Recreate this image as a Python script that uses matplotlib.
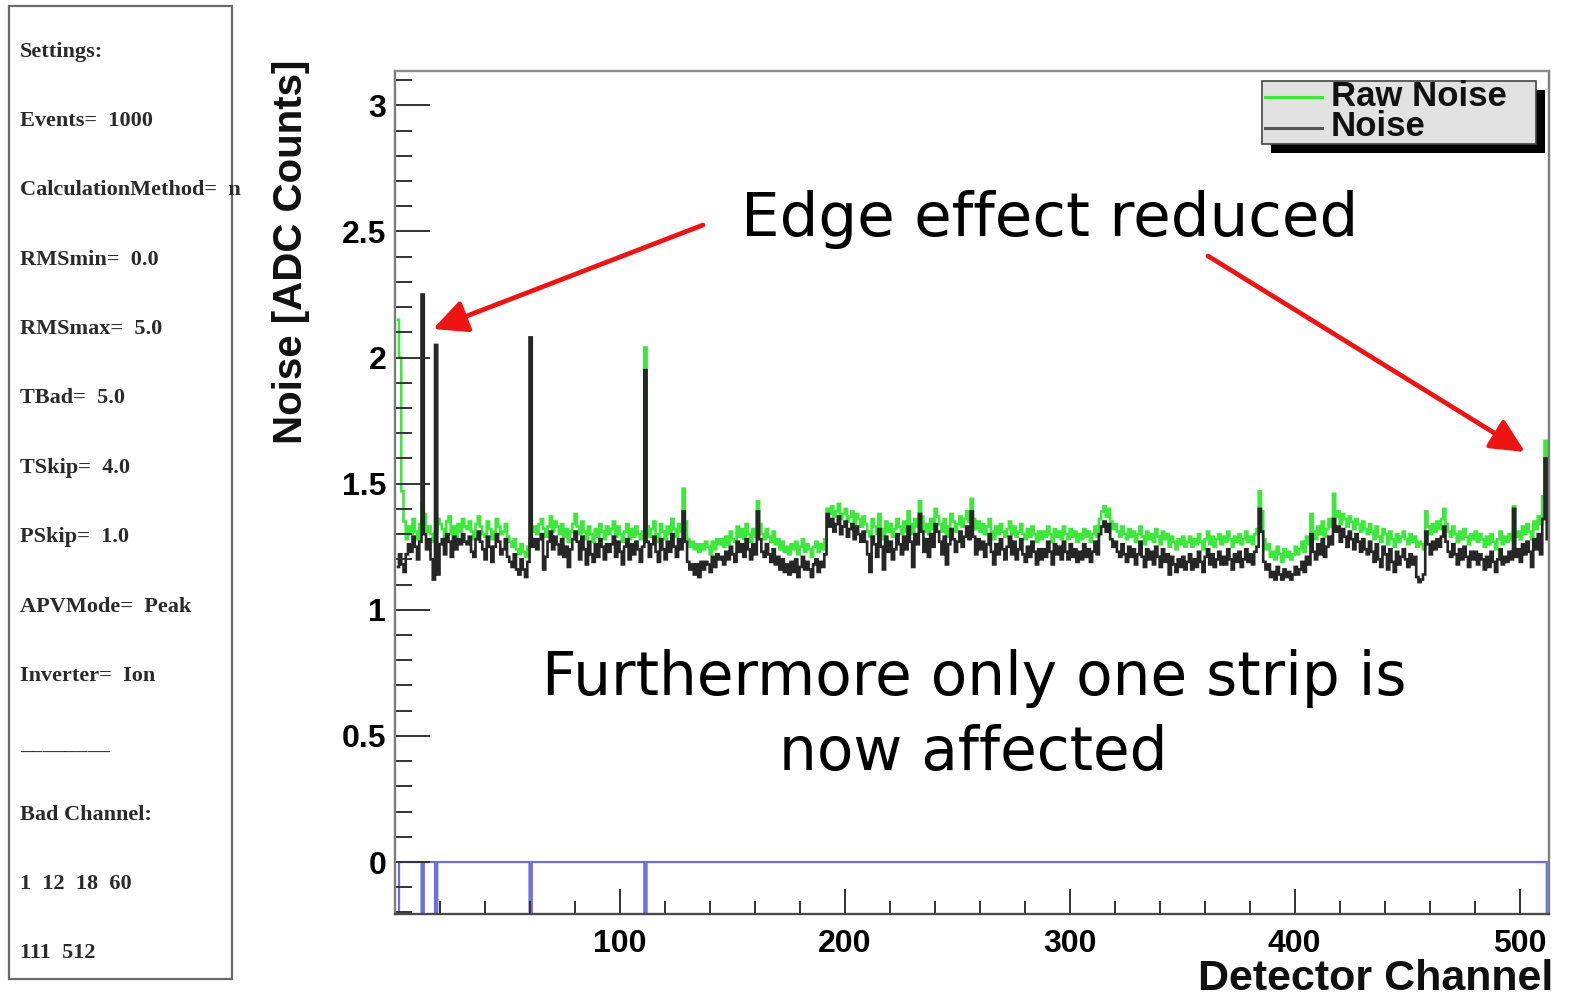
import numpy as np
import matplotlib
matplotlib.use("Agg")
import matplotlib.pyplot as plt
from matplotlib.patches import Rectangle, FancyArrowPatch
from matplotlib.lines import Line2D
from matplotlib.ticker import MultipleLocator

# ---------------- data (values in 1/100 ADC counts, channels 1..512) ----------------
raw_noise_c = [
    215, 200, 147, 135, 128, 133, 130, 136, 131, 128, 134, 142, 138, 131, 133, 130,
    127, 131, 136, 134, 132, 128, 135, 137, 130, 133, 129, 134, 131, 136, 133, 132,
    135, 131, 128, 134, 137, 133, 130, 129, 135, 132, 128, 131, 136, 133, 130, 131,
    134, 129, 127, 125, 128, 124, 122, 126, 123, 121, 125, 128, 131, 133, 130, 134,
    136, 132, 129, 133, 137, 131, 135, 133, 130, 134, 129, 132, 127, 131, 134, 138,
    133, 130, 135, 131, 128, 133, 130, 127, 132, 129, 134, 131, 128, 133, 130, 132,
    135, 129, 133, 130, 127, 131, 134, 128, 132, 129, 133, 130, 128, 131, 204, 133,
    129, 132, 135, 130, 127, 134, 131, 128, 133, 130, 136, 132, 129, 134, 131, 148,
    135, 128, 125, 127, 124, 126, 123, 126, 124, 127, 125, 122, 127, 124, 128, 126,
    128, 125, 129, 126, 131, 128, 127, 133, 129, 132, 128, 134, 130, 127, 132, 129,
    143, 134, 130, 128, 132, 129, 127, 131, 126, 128, 124, 127, 123, 125, 122, 126,
    124, 127, 122, 125, 128, 123, 126, 124, 121, 125, 127, 123, 126, 124, 128, 140,
    138, 141, 137, 139, 142, 136, 138, 140, 135, 137, 139, 134, 138, 136, 133, 137,
    134, 131, 129, 136, 133, 130, 138, 132, 128, 135, 131, 134, 129, 132, 136, 133,
    130, 135, 131, 139, 134, 130, 136, 133, 143, 137, 131, 134, 130, 136, 132, 140,
    137, 134, 131, 136, 129, 133, 138, 135, 131, 134, 137, 133, 136, 139, 135, 144,
    136, 132, 135, 131, 134, 130, 133, 136, 131, 128, 133, 130, 134, 131, 129, 132,
    135, 130, 133, 129, 131, 134, 130, 128, 132, 129, 133, 130, 127, 131, 128, 131,
    129, 133, 130, 127, 132, 129, 131, 128, 133, 130, 128, 132, 129, 131, 127, 130,
    128, 132, 129, 131, 127, 130, 133, 129, 136, 139, 141, 137, 140, 135, 132, 134,
    131, 129, 133, 130, 128, 132, 129, 131, 127, 130, 133, 129, 126, 131, 128, 130,
    127, 132, 129, 126, 131, 128, 130, 125, 129, 127, 124, 128, 126, 129, 125, 127,
    129, 125, 128, 126, 130, 127, 124, 128, 131, 126, 129, 125, 128, 130, 126, 129,
    127, 131, 128, 125, 129, 127, 130, 126, 128, 131, 127, 129, 126, 130, 132, 147,
    139, 128, 124, 126, 121, 123, 120, 125, 122, 119, 124, 121, 123, 120, 122, 125,
    122, 124, 127, 123, 129, 126, 138, 131, 128, 133, 130, 135, 129, 132, 136, 133,
    146, 137, 139, 134, 138, 136, 133, 137, 135, 132, 136, 134, 131, 135, 132, 130,
    134, 131, 128, 133, 129, 127, 132, 130, 126, 131, 128, 125, 130, 127, 129, 131,
    128, 126, 130, 127, 129, 125, 127, 126, 124, 139, 133, 130, 134, 131, 135, 132,
    136, 140, 134, 131, 129, 133, 130, 127, 131, 128, 132, 129, 126, 130, 128, 131,
    127, 130, 128, 125, 129, 126, 130, 127, 124, 128, 131, 126, 129, 127, 130, 128,
    141, 129, 131, 128, 133, 130, 134, 131, 128, 135, 132, 137, 134, 145, 167, 140,
]

noise_c = [
    117, 122, 118, 115, 122, 126, 123, 129, 125, 120, 127, 225, 130, 124, 128, 120,
    112, 205, 114, 126, 128, 122, 130, 127, 121, 129, 124, 128, 126, 130, 127, 126,
    129, 123, 121, 128, 131, 127, 124, 120, 129, 125, 119, 125, 130, 127, 122, 124,
    128, 121, 119, 117, 122, 116, 114, 120, 116, 113, 119, 208, 125, 128, 124, 128,
    130, 116, 121, 127, 131, 124, 129, 126, 122, 128, 121, 125, 117, 124, 128, 131,
    127, 120, 129, 124, 118, 127, 122, 119, 126, 121, 128, 125, 120, 126, 123, 126,
    129, 121, 127, 123, 118, 125, 128, 120, 126, 122, 127, 124, 119, 125, 195, 127,
    121, 126, 129, 123, 119, 128, 124, 120, 127, 123, 130, 125, 121, 128, 124, 139,
    127, 119, 116, 118, 114, 118, 113, 119, 116, 119, 118, 115, 121, 117, 122, 120,
    121, 118, 123, 120, 125, 122, 119, 127, 123, 126, 121, 128, 124, 120, 126, 122,
    139, 128, 123, 121, 126, 122, 119, 124, 118, 121, 116, 120, 115, 118, 114, 119,
    115, 120, 113, 117, 121, 116, 119, 116, 113, 118, 120, 115, 119, 117, 122, 138,
    133, 136, 131, 134, 137, 130, 133, 135, 129, 132, 134, 128, 133, 130, 127, 131,
    127, 122, 115, 129, 126, 121, 132, 125, 116, 129, 123, 127, 120, 124, 130, 126,
    122, 129, 124, 133, 127, 117, 130, 126, 138, 131, 123, 128, 121, 130, 125, 134,
    131, 127, 122, 129, 118, 126, 132, 128, 123, 127, 131, 125, 129, 133, 128, 139,
    129, 122, 128, 124, 127, 121, 126, 130, 123, 118, 126, 122, 128, 124, 120, 125,
    129, 122, 127, 120, 124, 128, 122, 119, 125, 121, 127, 123, 118, 124, 120, 124,
    121, 127, 123, 118, 126, 122, 125, 120, 127, 123, 120, 126, 121, 124, 119, 123,
    120, 126, 121, 124, 119, 123, 127, 122, 130, 133, 135, 131, 134, 128, 125, 127,
    123, 121, 126, 122, 119, 125, 121, 124, 118, 122, 127, 121, 117, 124, 120, 123,
    118, 125, 121, 117, 124, 119, 122, 114, 121, 118, 115, 120, 117, 121, 116, 119,
    122, 116, 120, 117, 123, 119, 115, 121, 124, 118, 122, 117, 120, 123, 118, 121,
    118, 124, 120, 116, 122, 119, 123, 117, 120, 124, 119, 122, 118, 123, 125, 140,
    131, 119, 116, 118, 113, 115, 112, 117, 114, 112, 116, 113, 115, 112, 114, 117,
    114, 116, 119, 115, 121, 118, 130, 123, 120, 126, 122, 128, 121, 125, 129, 126,
    136, 131, 133, 127, 132, 129, 125, 131, 128, 124, 130, 127, 123, 128, 124, 122,
    127, 123, 119, 126, 120, 117, 125, 122, 116, 124, 119, 115, 123, 118, 121, 124,
    120, 117, 122, 118, 121, 113, 111, 112, 114, 131, 126, 122, 127, 124, 128, 125,
    129, 133, 127, 123, 121, 126, 122, 118, 124, 120, 125, 121, 117, 123, 120, 123,
    118, 122, 120, 116, 121, 117, 123, 119, 115, 120, 124, 118, 121, 119, 123, 120,
    140, 121, 124, 119, 126, 122, 127, 123, 117, 128, 124, 130, 122, 136, 160, 128,
]

bad_channels = [1, 12, 18, 60, 111, 512]
n_channels = 512

settings_lines = [
    "Settings:", "Events=  1000", "CalculationMethod=  n", "RMSmin=  0.0",
    "RMSmax=  5.0", "TBad=  5.0", "TSkip=  4.0", "PSkip=  1.0",
    "APVMode=  Peak", "Inverter=  Ion", "________", "Bad Channel:",
    "1  12  18  60", "111  512",
]

x_ticks = [100, 200, 300, 400, 500]
y_ticks = [0, 0.5, 1, 1.5, 2, 2.5, 3]
y_tick_labels = ["0", "0.5", "1", "1.5", "2", "2.5", "3"]
legend_labels = ["Raw Noise", "Noise"]

assert len(raw_noise_c) == n_channels and len(noise_c) == n_channels

raw_noise = np.array(raw_noise_c) / 100.0
noise = np.array(noise_c) / 100.0
bad_flag = np.zeros(n_channels)
bad_flag[np.array(bad_channels) - 1] = -1.0
edges = np.arange(1, n_channels + 2)

# ---------------- figure ----------------
W, H = 1574, 1002
fig = plt.figure(figsize=(W / 100, H / 100), dpi=100)


def fx(x):
    return x / W


def fy(y):
    return 1 - y / H


GREEN = "#3be83b"
DARK = "#262626"
BLUE = "#6f6fd8"
RED = "#ee1414"
SANS = "Liberation Sans"

ax = fig.add_axes([fx(394.5), fy(913.5), fx(1549) - fx(394.5), fy(71.3) - fy(913.5)])
ax.stairs(raw_noise, edges, baseline=None, color=GREEN, lw=1.9)
ax.stairs(noise, edges, baseline=None, color=DARK, lw=1.9)
ax.stairs(bad_flag, edges, baseline=None, color=BLUE, lw=1.6)

ax.set_xlim(0, 513)
ax.set_ylim(-0.204, 3.135)

ax.set_xticks(x_ticks, labels=[str(v) for v in x_ticks], fontsize=23,
              fontweight="bold", family=SANS)
ax.set_yticks(y_ticks, labels=y_tick_labels, fontsize=23,
              fontweight="bold", family=SANS)
ax.xaxis.set_minor_locator(MultipleLocator(20))
ax.yaxis.set_minor_locator(MultipleLocator(0.1))
ax.tick_params(axis="x", which="major", direction="in", length=18, width=1.4,
               color="#333333", top=False, pad=11)
ax.tick_params(axis="x", which="minor", direction="in", length=9.5, width=1.4,
               color="#333333", top=False)
ax.tick_params(axis="y", which="major", direction="in", length=25, width=1.4,
               color="#333333", right=False, pad=6)
ax.tick_params(axis="y", which="minor", direction="in", length=12, width=1.4,
               color="#333333", right=False)
for side, col in [("left", "#7d7d7d"), ("top", "#8a8a8a"), ("right", "#7d7d7d"),
                  ("bottom", "#4a4a4a")]:
    ax.spines[side].set_color(col)
    ax.spines[side].set_linewidth(1.7)

# axis titles
fig.text(fx(302), fy(252), "Noise [ADC Counts]", rotation=90, rotation_mode="anchor",
         ha="center", va="baseline", fontsize=29, fontweight="bold", family=SANS,
         color="#111111")
fig.text(fx(1553), fy(990), "Detector Channel", ha="right", va="baseline",
         fontsize=31, fontweight="bold", family=SANS, color="#111111")

# legend (ROOT style with shadow)
fig.add_artist(Rectangle((fx(1271), fy(152.5)), fx(1545) - fx(1271), fy(90) - fy(152.5),
                         transform=fig.transFigure, facecolor="black", edgecolor="none"))
fig.add_artist(Rectangle((fx(1262), fy(143.5)), fx(1536) - fx(1262), fy(81.3) - fy(143.5),
                         transform=fig.transFigure, facecolor="#e2e2e2",
                         edgecolor="#444444", lw=1.2))
fig.add_artist(Line2D([fx(1265), fx(1322)], [fy(96.7), fy(96.7)], transform=fig.transFigure,
                      color=GREEN, lw=2.2))
fig.add_artist(Line2D([fx(1265), fx(1322)], [fy(128.3), fy(128.3)], transform=fig.transFigure,
                      color="#555555", lw=2.2))
fig.text(fx(1331), fy(105.5), legend_labels[0], ha="left", va="baseline", fontsize=25,
         fontweight="bold", family=SANS, color="#111111")
fig.text(fx(1331), fy(136), legend_labels[1], ha="left", va="baseline", fontsize=25,
         fontweight="bold", family=SANS, color="#111111")

# settings panel
fig.add_artist(Rectangle((fx(9), fy(979)), fx(232.5) - fx(9), fy(6) - fy(979),
                         transform=fig.transFigure, facecolor="white",
                         edgecolor="#6a6a6a", lw=1.6))
for k, line in enumerate(settings_lines):
    fig.text(fx(20), fy(56.7 + 69.35 * k), line, ha="left", va="baseline",
             fontsize=16, fontweight="bold", family="Liberation Serif", color="#2a2a2a")

# annotations
fig.text(fx(741), fy(236), "Edge effect reduced", ha="left", va="baseline",
         fontsize=44, color="black")
fig.text(fx(974), fy(695), "Furthermore only one strip is", ha="center", va="baseline",
         fontsize=43, color="black")
fig.text(fx(973), fy(770), "now affected", ha="center", va="baseline",
         fontsize=43, color="black")

for (x0, y0), (x1, y1) in [((703, 225), (433, 329)), ((1208, 256), (1525, 452))]:
    arr = FancyArrowPatch(posA=(fx(x0), fy(y0)), posB=(fx(x1), fy(y1)),
                          transform=fig.transFigure,
                          arrowstyle="-|>,head_length=1.03,head_width=0.5",
                          mutation_scale=20, lw=3.4, color=RED,
                          shrinkA=0, shrinkB=0)
    fig.add_artist(arr)

fig.savefig("out.png", dpi=100)
